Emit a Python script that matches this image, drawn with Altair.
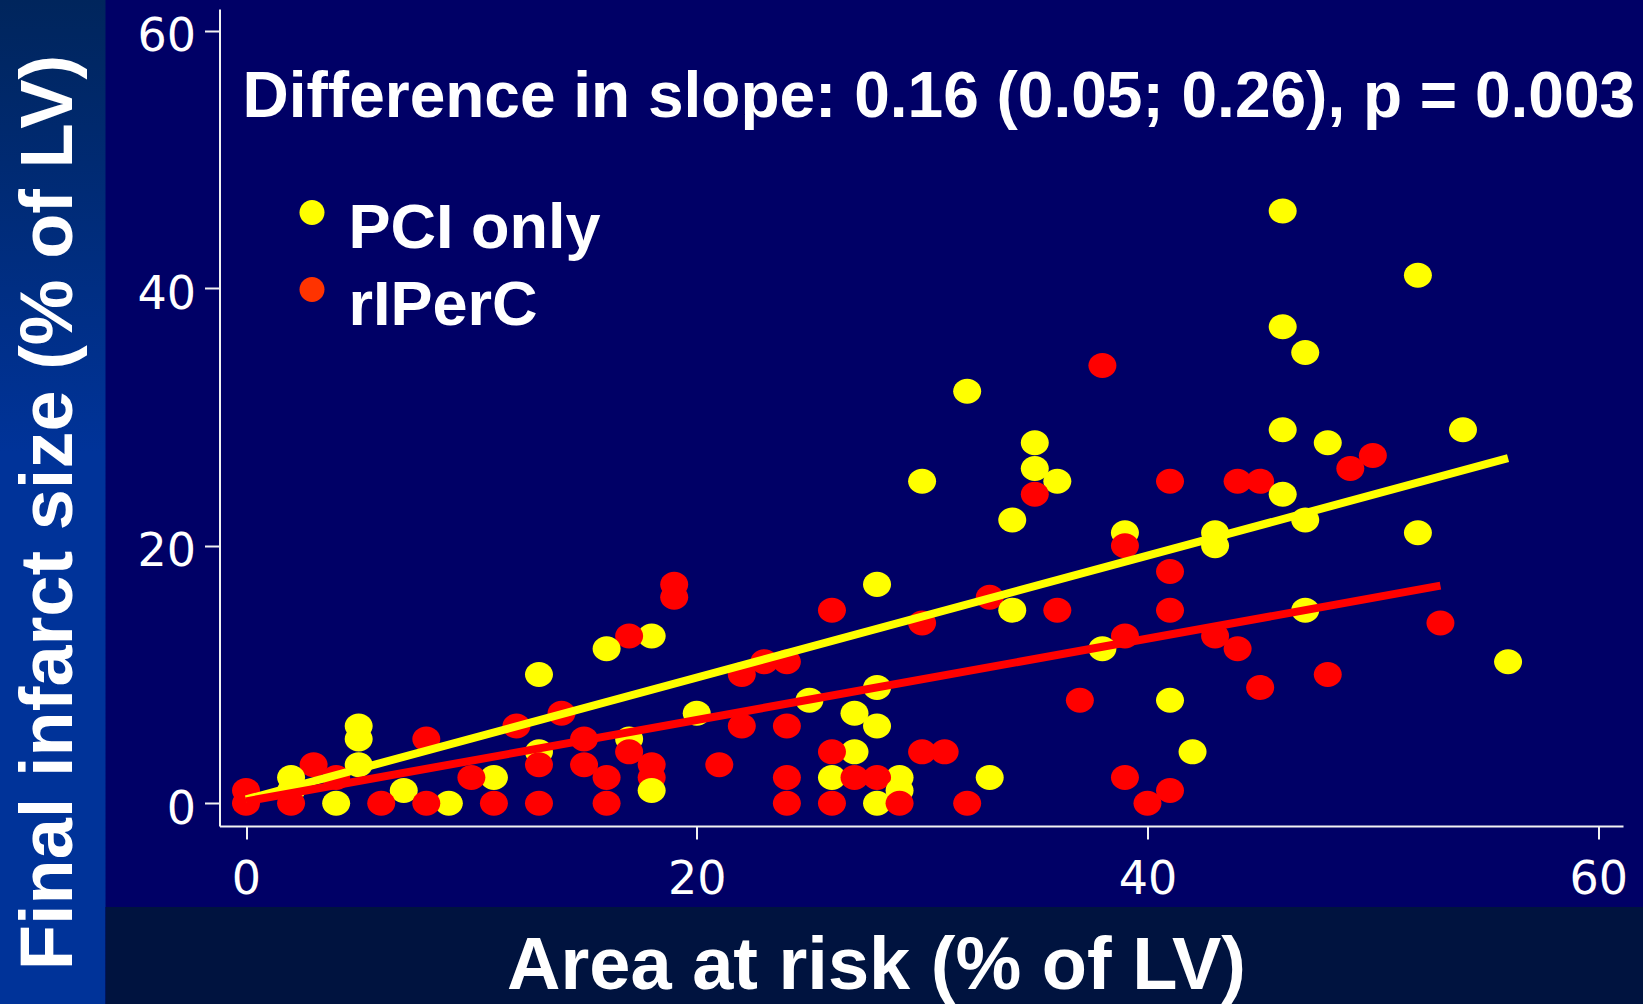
import altair as alt
import pandas as pd

# Area at risk (x) and final infarct size (y), % of LV, per patient
pci_x = [2, 2, 4, 5, 5, 5, 7, 9, 11, 13, 13, 16, 17, 18, 18, 20, 25, 26, 27, 27,
         28, 28, 28, 28, 29, 29, 30, 32, 33, 34, 34, 35, 35, 36, 38, 39, 41, 42, 43, 43,
         46, 46, 46, 46, 47, 47, 47, 48, 52, 52, 54, 56]
pci_y = [2, 1, 0, 6, 5, 3, 1, 0, 2, 10, 4, 12, 5, 13, 1, 7, 8, 2, 7, 4,
         17, 9, 6, 0, 2, 1, 25, 32, 2, 22, 15, 28, 26, 25, 12, 21, 8, 4, 21, 20,
         46, 37, 29, 24, 35, 22, 15, 28, 41, 21, 29, 11]

ripc_x = [0, 0, 2, 3, 4, 6, 8, 8, 10, 11, 12, 13, 13, 14, 15, 15, 16, 16, 17, 17,
          18, 18, 19, 19, 21, 22, 22, 23, 24, 24, 24, 24, 26, 26, 26, 27, 28, 29, 30, 30,
          31, 32, 33, 35, 36, 37, 38, 39, 39, 39, 40, 41, 41, 41, 41, 43, 44, 44, 45, 45,
          48, 49, 50, 53]
ripc_y = [1, 0, 0, 3, 2, 0, 5, 0, 2, 0, 6, 3, 0, 7, 5, 3, 2, 0, 13, 4,
          3, 2, 17, 16, 3, 10, 6, 11, 11, 6, 2, 0, 15, 4, 0, 2, 2, 0, 14, 4,
          4, 0, 16, 24, 15, 8, 34, 20, 13, 2, 0, 25, 18, 15, 1, 13, 25, 12, 25, 9,
          10, 26, 27, 14]

groups = ["PCI only", "rIPerC"]

# Fitted regression lines (end points of each group's fit)
fit_group = ["PCI only", "PCI only", "rIPerC", "rIPerC"]
fit_x = [0, 56, 0, 53]
fit_y = [0.3, 26.8, 0.15, 16.9]

slope_note = "Difference in slope: 0.16 (0.05; 0.26), p = 0.003"
x_title = "Area at risk (% of LV)"
y_title = "Final infarct size (% of LV)"
tick_values = [0, 20, 40, 60]

points = pd.DataFrame({
    "x": pci_x + ripc_x,
    "y": pci_y + ripc_y,
    "group": [groups[0]] * len(pci_x) + [groups[1]] * len(ripc_x),
})
fits = pd.DataFrame({"x": fit_x, "y": fit_y, "group": fit_group})
key_rows = pd.DataFrame({"group": groups})

NAVY = "#000066"
BOLD = "Liberation Sans"
W, H = 1403.5, 817
PAD = {"left": 219.5, "top": 9, "right": 20, "bottom": 178}

ELLIPSE = ("M-1,0C-1,-0.493,-0.552,-0.893,0,-0.893C0.552,-0.893,1,-0.493,1,0"
           "C1,0.493,0.552,0.893,0,0.893C-0.552,0.893,-1,0.493,-1,0Z")
LEGEND_DOT = ("M-1,-1.28C-1,-1.832,-0.552,-2.28,0,-2.28C0.552,-2.28,1,-1.832,1,-1.28"
              "C1,-0.728,0.552,-0.28,0,-0.28C-0.552,-0.28,-1,-0.728,-1,-1.28Z")

x_enc = alt.X(
    "x:Q",
    scale=alt.Scale(domain=[-1.176, 61.10], nice=False, zero=False),
    axis=alt.Axis(
        values=tick_values, title=x_title, grid=False, zindex=1,
        domainColor="#F2F2F2", domainWidth=2, tickColor="#F2F2F2", tickWidth=2,
        tickSize=13, labelFont="DejaVu Sans", labelFontSize=46, labelColor="white",
        labelPadding=18, labelFlush=False, labelOverlap=False,
        titleFont=BOLD, titleFontWeight="bold", titleFontSize=74, titleColor="white",
        titleX=656.5, titleY=162, titleBaseline="alphabetic", titleAlign="center",
        titleAngle=0,
    ),
)
y_enc = alt.Y(
    "y:Q",
    scale=alt.Scale(domain=[-1.763, 61.68], nice=False, zero=False),
    axis=alt.Axis(
        values=tick_values, title=y_title, grid=False, zindex=1,
        domainColor="#F2F2F2", domainWidth=2, tickColor="#F2F2F2", tickWidth=2,
        tickSize=15, labelFont="DejaVu Sans", labelFontSize=46, labelColor="white",
        labelPadding=9, labelOffset=6, labelOverlap=False,
        titleFont=BOLD, titleFontWeight="bold", titleFontSize=74, titleColor="white",
        titleX=-148, titleY=503, titleAngle=270, titleBaseline="alphabetic",
        titleAlign="center",
    ),
)

one_row = pd.DataFrame({"k": [0]})

left_band = alt.Chart(one_row).mark_rect(
    fill=alt.LinearGradient(
        gradient="linear",
        stops=[alt.GradientStop(color="#00255C", offset=0),
               alt.GradientStop(color="#003399", offset=0.45),
               alt.GradientStop(color="#003399", offset=1)],
        x1=0, x2=0, y1=0, y2=1,
    )
).encode(x=alt.value(-219.5), x2=alt.value(-114), y=alt.value(-9), y2=alt.value(995))

bottom_band = alt.Chart(one_row).mark_rect(fill="#00133F").encode(
    x=alt.value(-114), x2=alt.value(1423.5), y=alt.value(898), y2=alt.value(995)
)

scatter = alt.Chart(points).mark_point(
    shape=ELLIPSE, filled=True, size=784, opacity=1, strokeWidth=0
).encode(
    x=x_enc,
    y=y_enc,
    fill=alt.Fill("group:N", scale=alt.Scale(domain=groups, range=["#FFFF00", "#FF0000"]),
                  legend=None),
    order=alt.Order("y:Q", sort="descending"),
)

fit_lines = alt.Chart(fits).mark_line(strokeWidth=8, strokeCap="butt").encode(
    x="x:Q",
    y="y:Q",
    detail="group:N",
    stroke=alt.Stroke("group:N", scale=alt.Scale(domain=groups, range=["#FFFF00", "#FF0000"]),
                      legend=None),
    order=alt.Order("x:Q"),
)

# Group key: the legend is built from this layer's colour scale; its own marks have no size
key = alt.Chart(key_rows).mark_point(filled=True, opacity=1, size=0).encode(
    color=alt.Color(
        "group:N",
        scale=alt.Scale(range=["#FFFF00", "#FF3300"]),
        legend=alt.Legend(
            orient="none", legendX=61, legendY=188, direction="vertical", title=None,
            padding=0, symbolType=LEGEND_DOT, symbolSize=625, symbolStrokeWidth=0,
            symbolOpacity=1, labelFont=BOLD, labelFontWeight="bold", labelFontSize=63,
            labelColor="white", labelLimit=2000, labelOffset=5, rowPadding=13,
            labelBaseline="middle",
        ),
    ),
)

note = alt.Chart(pd.DataFrame({"note": [slope_note]})).mark_text(
    align="left", baseline="alphabetic", font=BOLD, fontWeight="bold", fontSize=64,
    color="white",
).encode(x=alt.value(23), y=alt.value(108), text="note:N")

chart = alt.layer(left_band, bottom_band, scatter, fit_lines, key, note).properties(
    width=W, height=H, padding=PAD, autosize=alt.AutoSizeParams(type="none"),
    background=NAVY,
).configure_view(stroke=None, fill=NAVY)

chart.save("out.html", embed_options={"renderer": "svg", "actions": False})
